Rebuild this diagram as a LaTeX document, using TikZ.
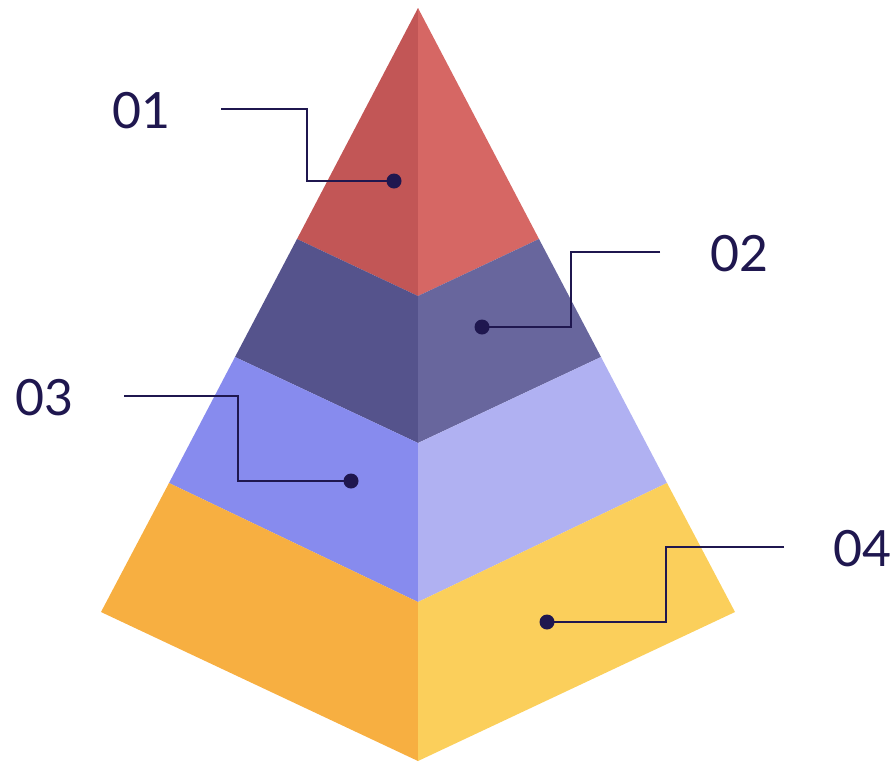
\documentclass[tikz,border=0pt]{standalone}
\usepackage{fontspec}
\setmainfont{Lato}
\usetikzlibrary{positioning}
\definecolor{PyrInk}{HTML}{1F174F}
\definecolor{PyrRedDark}{HTML}{C25656}
\definecolor{PyrRedLight}{HTML}{D66764}
\definecolor{PyrPlumDark}{HTML}{55538C}
\definecolor{PyrPlumLight}{HTML}{68669D}
\definecolor{PyrBlueDark}{HTML}{878BEE}
\definecolor{PyrBlueLight}{HTML}{B0B1F2}
\definecolor{PyrGoldDark}{HTML}{F7AF41}
\definecolor{PyrGoldLight}{HTML}{FBCF5B}
\tikzset{
  pyr label/.style={text=PyrInk,inner sep=0pt,
    font=\fontsize{50}{60}\selectfont},
  pyr leader/.style={PyrInk,line width=2pt},
  pyr dot/.style={circle,fill=PyrInk,inner sep=0pt,minimum size=15pt}
}

\begin{document}
\begin{tikzpicture}[x=1pt,y=-1pt]

        \useasboundingbox (0,0) rectangle (894,761);

        % top layer
        \fill[PyrRedDark]
          (418,8) -- (297,239) -- (418,296) -- cycle;
        \fill[PyrRedLight]
          (418,8) -- (418,296) -- (539,239) -- cycle;

        % second layer
        \fill[PyrPlumDark]
          (297,239) -- (235,357) -- (418,443) -- (418,296) -- cycle;
        \fill[PyrPlumLight]
          (418,296) -- (418,443) -- (601,357) -- (539,239) -- cycle;

        % third layer
        \fill[PyrBlueDark]
          (235,357) -- (169,483) -- (418,602) -- (418,443) -- cycle;
        \fill[PyrBlueLight]
          (418,443) -- (418,602) -- (667,483) -- (601,357) -- cycle;

        % bottom layer
        \fill[PyrGoldDark]
          (169,483) -- (101,612) -- (418,761) -- (418,602) -- cycle;
        \fill[PyrGoldLight]
          (418,602) -- (418,761) -- (735,612) -- (667,483) -- cycle;

        \node[pyr label] (num01) at (141.5,111) {01};
        \node[pyr label] (num02) at (739,253.5) {02};
        \node[pyr label] (num03) at (44.5,397.5) {03};
        \node[pyr label] (num04) at (862,548.5) {04};

        \node[pyr dot] (dot01) at (394,181) {};
        \node[pyr dot] (dot02) at (482,327) {};
        \node[pyr dot] (dot03) at (351,481) {};
        \node[pyr dot] (dot04) at (547,622) {};

        \coordinate (lead01) at (221,109);
        \coordinate (lead02) at (660,252);
        \coordinate (lead03) at (124,396);
        \coordinate (lead04) at (784,547);

        \draw[pyr leader] (lead01) -- (307,109) |- (dot01.center);
        \draw[pyr leader] (lead02) -- (571,252) |- (dot02.center);
        \draw[pyr leader] (lead03) -- (238,396) |- (dot03.center);
        \draw[pyr leader] (lead04) -- (666,547) |- (dot04.center);

      \end{tikzpicture}
\end{document}
